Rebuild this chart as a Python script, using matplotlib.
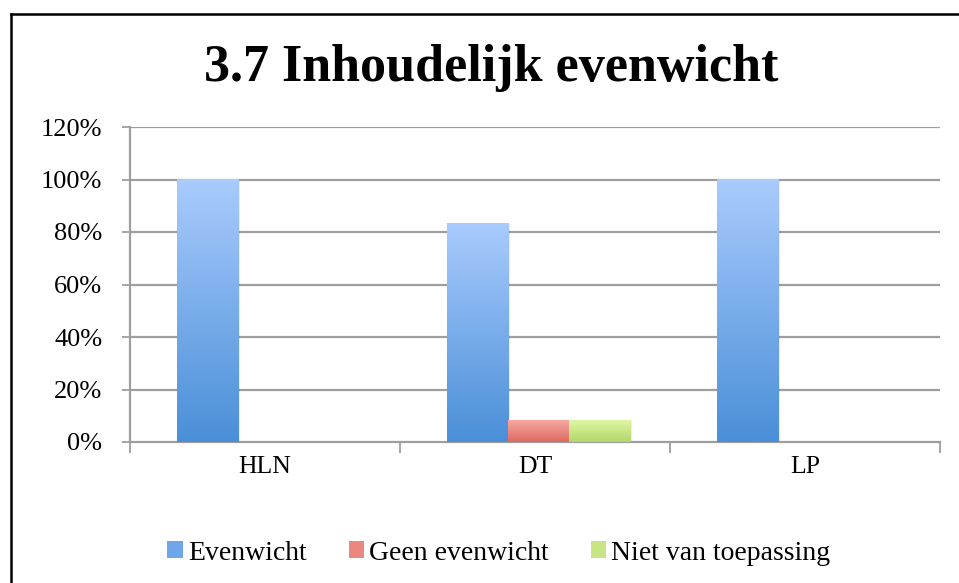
import matplotlib
matplotlib.use('Agg')
import matplotlib.pyplot as plt
import numpy as np
from matplotlib.colors import LinearSegmentedColormap
from matplotlib.lines import Line2D
from matplotlib.patches import Patch, Rectangle

categories = ['HLN', 'DT', 'LP']
series_names = ['Evenwicht', 'Geen evenwicht', 'Niet van toepassing']
evenwicht = [1.0, 0.8333, 1.0]
geen_evenwicht = [0.0, 0.0833, 0.0]
niet_van_toepassing = [0.0, 0.0833, 0.0]
yticks = [0, 0.2, 0.4, 0.6, 0.8, 1.0, 1.2]
ytick_labels = ['0%', '20%', '40%', '60%', '80%', '100%', '120%']
title = '3.7 Inhoudelijk evenwicht'

grad_colors = [('#a9cbfd', '#4a8fd8'), ('#f5a8a2', '#de6a60'), ('#def6a6', '#b2d768')]
legend_colors = ['#6fa6ea', '#ea8880', '#c8e586']

plt.rcParams['font.family'] = ['Liberation Serif', 'DejaVu Serif']

fig = plt.figure(figsize=(9.59, 5.83), dpi=100)
W, H = 959, 583
ax = fig.add_axes([130 / W, 141 / H, 810 / W, 315 / H])

x = np.arange(len(categories))
w = 0.226
all_series = [evenwicht, geen_evenwicht, niet_van_toepassing]
for i, vals in enumerate(all_series):
    ctop, cbot = grad_colors[i]
    cmap = LinearSegmentedColormap.from_list('g%d' % i, [cbot, ctop])
    bars = ax.bar(x + (i - 1) * w + 0.012, vals, w, color='none', edgecolor='none')
    for b in bars:
        h = b.get_height()
        if h <= 0:
            continue
        x0 = b.get_x()
        ax.add_patch(Rectangle((x0 + 0.008, 0), w, h - 0.004, facecolor='black',
                               alpha=0.07, edgecolor='none', zorder=2.5))
        grad = np.linspace(1, 0, 256).reshape(-1, 1)
        ax.imshow(grad, extent=(x0, x0 + w, 0, h), aspect='auto', cmap=cmap,
                  origin='upper', zorder=3, vmin=0, vmax=1, interpolation='bilinear')

ax.set_xlim(-0.5, 2.5)
ax.set_ylim(0, 1.2)
ax.set_yticks(yticks)
ax.set_yticklabels(ytick_labels, fontsize=19)
for yv in yticks[1:]:
    ax.axhline(yv, color='#9e9e9e', lw=1.6, zorder=1)

ax.set_xticks([-0.5, 0.5, 1.5, 2.5])
ax.set_xticklabels([])
ax.set_xticks(x, minor=True)
ax.set_xticklabels(categories, minor=True, fontsize=18.5)
ax.tick_params(axis='x', which='major', direction='out', length=8, width=1.3, color='#9e9e9e')
ax.tick_params(axis='x', which='minor', length=0, pad=10)
ax.tick_params(axis='y', direction='out', length=6, width=1.3, color='#9e9e9e', pad=14)

for s in ['top', 'right']:
    ax.spines[s].set_visible(False)
for s in ['left', 'bottom']:
    ax.spines[s].set_color('#9e9e9e')
    ax.spines[s].set_linewidth(1.6)

fig.text(491 / W, 1 - 68 / H, title, ha='center', va='center', fontsize=37.5, fontweight='bold')

handles = [Patch(facecolor=c, edgecolor='none') for c in legend_colors]
fig.legend(handles, series_names, loc='center', bbox_to_anchor=(499 / W, 1 - 553 / H),
           ncol=3, frameon=False, fontsize=20, handlelength=0.55, handleheight=0.55,
           handletextpad=0.2, columnspacing=1.5)

fig.add_artist(Line2D([10.5 / W, 10.5 / W], [0, 1 - 14 / H], transform=fig.transFigure,
                      color='black', lw=1.8))
fig.add_artist(Line2D([10.5 / W, 1], [1 - 14 / H, 1 - 14 / H], transform=fig.transFigure,
                      color='black', lw=1.8))

fig.savefig('out.png', dpi=100)
